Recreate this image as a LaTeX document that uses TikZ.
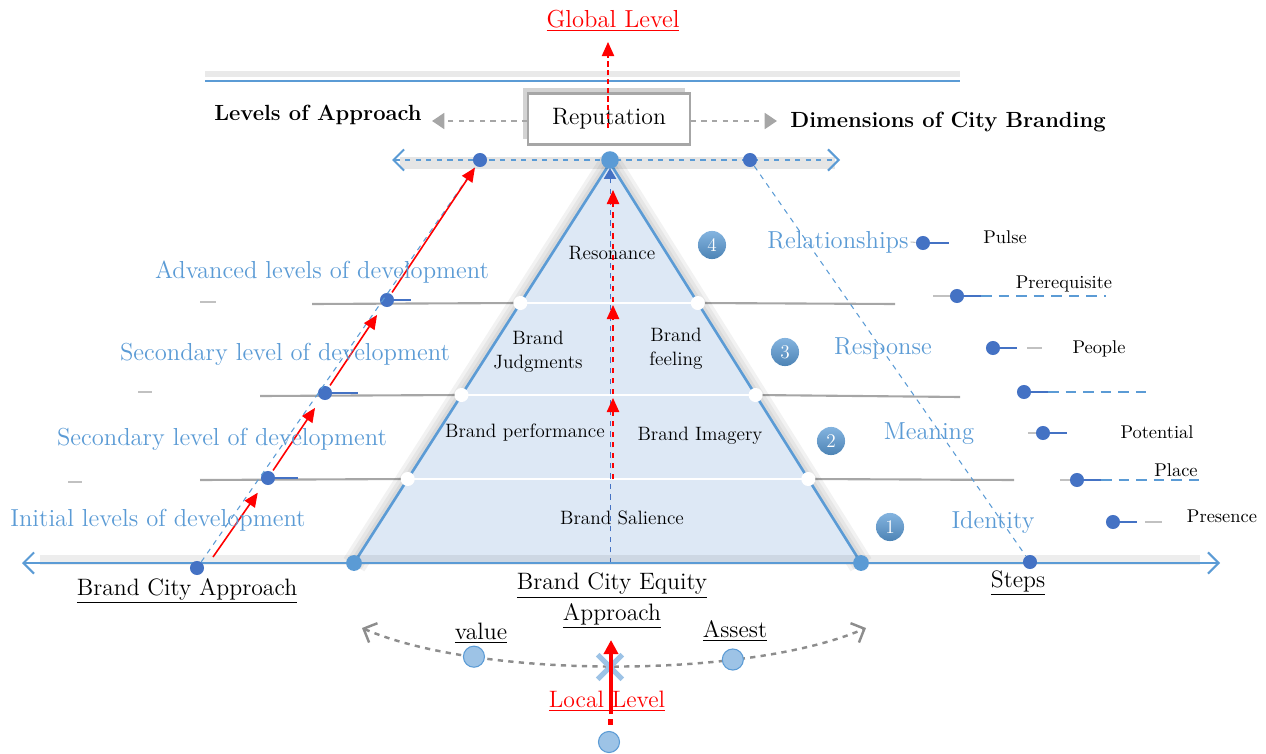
\documentclass[tikz,border=0pt]{standalone}
\usepackage{tikz}
\usepackage{xcolor}
\usetikzlibrary{positioning, arrows.meta, shapes.geometric, shapes.misc, calc, shadows, backgrounds}
\definecolor{cityBlue}{HTML}{5B9BD5}
\definecolor{dotBlue}{HTML}{4472C4}
\definecolor{pyrFill}{HTML}{DDE8F5}
\definecolor{lineGray}{HTML}{A6A6A6}
\definecolor{softBlue}{HTML}{9DC3E6}
\definecolor{levelRed}{HTML}{FF0000}

\tikzset{
  lvlText/.style={text=cityBlue, font=\fontsize{14}{16}\selectfont, inner sep=1pt},
  pyrText/.style={font=\fontsize{11}{13.5}\selectfont, align=center, inner sep=1pt},
  dimText/.style={font=\fontsize{10.5}{13}\selectfont, inner sep=1pt},
  axisText/.style={font=\fontsize{13.5}{17.6}\selectfont, align=center, inner sep=1pt},
  headText/.style={font=\bfseries\fontsize{12.5}{15}\selectfont, inner sep=1pt},
  darkDot/.style={circle, fill=dotBlue, minimum size=8pt, inner sep=0pt},
  lightDot/.style={circle, fill=cityBlue, minimum size=8pt, inner sep=0pt},
  whiteDot/.style={circle, fill=white, minimum size=8pt, inner sep=0pt},
  softDot/.style={circle, solid, fill=softBlue, draw=cityBlue, line width=0.6pt, minimum size=12pt, inner sep=0pt},
  stepNum/.style={circle, top color=cityBlue!75!white, bottom color=cityBlue!85!black, text=white,
    font=\fontsize{11}{13}\selectfont, minimum size=16pt, inner sep=0pt},
  grayLine/.style={lineGray, line width=1.2pt},
  tailLine/.style={dotBlue, line width=0.8pt},
  stubLine/.style={lineGray!70, line width=0.6pt},
  dashTail/.style={cityBlue, line width=1.2pt, dash pattern=on 6pt off 4pt},
  redStep/.style={levelRed, line width=0.9pt, -{Triangle[length=8pt,width=7pt]}},
  redUp/.style={levelRed, dashed, line width=0.9pt, -{Triangle[length=8pt,width=7pt]}},
  grayArrow/.style={lineGray, dashed, line width=1.4pt, -{Triangle[length=7pt,width=9pt]}},
  openTips/.style={{Straight Barb[length=6pt,width=12pt]}-{Straight Barb[length=6pt,width=12pt]}},
}

\begin{document}
\begin{tikzpicture}[x=0.02cm, y=-0.02cm]
  \useasboundingbox (0,0) rectangle (1266,753);

  % header rule
  \draw[lineGray!25, line width=3pt] (205,74) -- (960,74);
  \draw[cityBlue, line width=0.8pt] (205,81) -- (960,81);

  % pyramid corners and level cuts
  \coordinate (apex) at (610,163);
  \coordinate (baseL) at (354,563);
  \coordinate (baseR) at (861,563);
  \coordinate (baseM) at (610,563);
  \coordinate (cutL3) at ($(apex)!0.35!(baseL)$);
  \coordinate (cutR3) at ($(apex)!0.35!(baseR)$);
  \coordinate (cutL2) at ($(apex)!0.58!(baseL)$);
  \coordinate (cutR2) at ($(apex)!0.58!(baseR)$);
  \coordinate (cutL1) at ($(apex)!0.79!(baseL)$);
  \coordinate (cutR1) at ($(apex)!0.79!(baseR)$);

  % grey level lines either side
  \draw[grayLine] (312,304) -- (cutL3);
  \draw[grayLine] (cutR3) -- (895,304);
  \draw[grayLine] (260,396) -- (cutL2);
  \draw[grayLine] (cutR2) -- (960,397);
  \draw[grayLine] (200,480) -- (cutL1);
  \draw[grayLine] (cutR1) -- (1014,480);
  \draw[stubLine] (200,302) -- (216,302);
  \draw[stubLine] (138,392) -- (152,392);
  \draw[stubLine] (68,482) -- (82,482);

  % soft shade round the pyramid
  \foreach \w in {14,10,6}
    \draw[black, opacity=0.05, line width=\w pt, line join=round] ([yshift=-1pt]baseL) -- ([yshift=-1pt]apex) -- ([yshift=-1pt]baseR);
  \fill[pyrFill] (apex) -- (baseL) -- (baseR) -- cycle;
  \draw[white, line width=1.5pt] (cutL3) -- (cutR3) (cutL2) -- (cutR2) (cutL1) -- (cutR1);
  \draw[cityBlue, line width=1.5pt, line join=round] (baseL) -- (apex) -- (baseR);
  \foreach \c in {cutL3,cutR3,cutL2,cutR2,cutL1,cutR1}
    \node[whiteDot] at (\c) {};

  % centre line and the steps up
  \draw[dotBlue, dashed, line width=0.5pt, -{Triangle[length=6pt,width=7pt]}] (baseM) -- ([yshift=-3pt]apex);
  \draw[redUp] (613,479) -- (613,398);
  \draw[redUp] (613,394) -- (613,305);
  \draw[redUp] (613,302) -- (613,190);

  \node[pyrText] (reson) at (612,253) {Resonance};
  \node[pyrText] (judg) at (538,352) {Brand\\Judgments};
  \node[pyrText] (feel) at (676,349) {Brand\\feeling};
  \node[pyrText] (perf) at (525,433) {Brand performance};
  \node[pyrText] (imag) at (700,436) {Brand Imagery};
  \node[pyrText] (sali) at (622,518) {Brand Salience};

  % main axis
  \draw[black, opacity=0.07, line width=6pt] (40,560) -- (1200,560);
  \draw[cityBlue, line width=1.2pt, openTips] (22,563) -- (1220,563);
  \node[lightDot, minimum size=9pt] at (baseL) {};
  \node[lightDot, minimum size=9pt] at (baseR) {};

  % top dashed span
  \draw[black, opacity=0.1, line width=7pt] (400,163) -- (835,163);
  \draw[cityBlue, dashed, line width=1.2pt, openTips] (392,160) -- (840,160);
  \node[darkDot] (topL) at (480,160) {};
  \node[lightDot, minimum size=10pt] (topM) at (610,160) {};
  \node[darkDot] (topR) at (750,160) {};

  % left ladder of approach levels
  \node[darkDot] (lad0) at (197,568) {};
  \node[darkDot] (lad1) at (268,478) {};
  \node[darkDot] (lad2) at (325,393) {};
  \node[darkDot] (lad3) at (387,300) {};
  \coordinate (redFoot) at (213,557);
  \draw[cityBlue, dashed, line width=0.6pt] (lad0) -- (topL);
  \draw[redStep, shorten >=6pt] (redFoot) -- (lad1);
  \draw[redStep, shorten <=1pt, shorten >=6pt] (lad1) -- (lad2);
  \draw[redStep, shorten <=1pt, shorten >=6pt] (lad2) -- (lad3);
  \draw[redStep, shorten <=1pt, shorten >=1pt] (lad3) -- (topL);
  \draw[tailLine] (lad1) -- ++(30,0);
  \draw[tailLine] (lad2) -- ++(33,0);
  \draw[tailLine] (lad3) -- ++(24,0);

  \node[lvlText] (advLvl) at (322,272) {Advanced levels of development};
  \node[lvlText] (secLvlB) at (285,354) {Secondary level of development};
  \node[lvlText] (secLvlA) at (222,439) {Secondary level of development};
  \node[lvlText] (iniLvl) at (158,520) {Initial levels of development};

  % right side: steps of city branding
  \node[darkDot] (stepsDot) at (1030,562) {};
  \draw[cityBlue, dashed, line width=0.6pt] (topR) -- (stepsDot);

  \node[stepNum] (num4) at (712,245) {4};
  \node[stepNum] (num3) at (785,352) {3};
  \node[stepNum] (num2) at (831,441) {2};
  \node[stepNum] (num1) at (890,527) {1};

  \node[lvlText] (relLbl) at (838,242) {Relationships};
  \node[lvlText] (resLbl) at (883,348) {Response};
  \node[lvlText] (meanLbl) at (929,434) {Meaning};
  \node[lvlText] (idLbl) at (993,522) {Identity};

  \node[darkDot] (pulseDot) at (923,243) {};
  \draw[stubLine] (relLbl.east) -- (pulseDot);
  \draw[tailLine] (pulseDot) -- ++(26,0);
  \node[dimText] (pulse) at (1005,237) {Pulse};

  \node[darkDot] (preDot) at (957,296) {};
  \draw[stubLine] (933,296) -- (preDot);
  \draw[tailLine] (preDot) -- ++(24,0) coordinate (preEnd);
  \draw[dashTail] (preEnd) -- ++(125,0);
  \node[dimText] (prereq) at (1064,284) {Prerequisite};

  \node[darkDot] (peopleDot) at (993,348) {};
  \draw[tailLine] (peopleDot) -- ++(24,0);
  \draw[stubLine] (1027,348) -- (1042,348);
  \node[dimText] (people) at (1099,349) {People};

  \node[darkDot] (blankDot) at (1024,392) {};
  \draw[tailLine] (blankDot) -- ++(24,0) coordinate (blankEnd);
  \draw[dashTail] (blankEnd) -- ++(98,0);

  \node[darkDot] (potDot) at (1043,433) {};
  \draw[stubLine] (1028,433) -- (potDot);
  \draw[tailLine] (potDot) -- ++(24,0);
  \node[dimText] (potential) at (1157,432) {Potential};

  \node[darkDot] (placeDot) at (1077,480) {};
  \draw[stubLine] (1060,480) -- (placeDot);
  \draw[tailLine] (placeDot) -- ++(24,0) coordinate (placeEnd);
  \draw[dashTail] (placeEnd) -- ++(104,0);
  \node[dimText] (place) at (1176,470) {Place};

  \node[darkDot] (presDot) at (1113,522) {};
  \draw[tailLine] (presDot) -- ++(24,0);
  \draw[stubLine] (1145,522) -- (1162,522);
  \node[dimText] (presence) at (1222,516) {Presence};

  % reputation box and headings
  \node[draw=lineGray, line width=1.2pt, fill=white, minimum width=92pt, minimum height=29pt,
        font=\fontsize{13.5}{16}\selectfont,
        drop shadow={shadow xshift=-3pt, shadow yshift=3pt, opacity=0.35}] (repBox) at (609,119) {Reputation};
  \node[headText] (lvlHead) at (318,115) {Levels of Approach};
  \node[headText] (dimHead) at (948,122) {Dimensions of City Branding};
  \coordinate (lvlTip) at (432,121);
  \coordinate (dimTip) at (777,121);
  \draw[grayArrow] (repBox.west |- lvlTip) -- (lvlTip);
  \draw[grayArrow] (repBox.east |- dimTip) -- (dimTip);

  \node[text=levelRed, font=\fontsize{14}{16}\selectfont, inner sep=1pt] (globalLbl) at (613,21) {\underline{Global Level}};
  \draw[redUp, dash pattern=on 3pt off 2pt, line width=0.7pt] (608,128) -- (608,42);

  % axis labels
  \node[axisText] (bcaLbl) at (187,591) {\underline{Brand City Approach}};
  \node[axisText] (equityLbl) at (612,601) {\underline{Brand City Equity}\\\underline{Approach}};
  \node[axisText] (stepsLbl) at (1018,583) {\underline{Steps}};

  % value / asset swing at the local level
  \draw[lineGray!85!black, dashed, line width=1.4pt, openTips] (362,628) .. controls (480,679) and (748,679) .. (866,628)
    node[softDot, pos=0.25] (valueDot) {}
    node[softDot, pos=0.71] (assetDot) {};
  \node[axisText] (valueLbl) at (481,633) {\underline{value}};
  \node[axisText] (assetLbl) at (735,631) {\underline{Assest}};
  \node[cross out, draw=softBlue, line width=3pt, minimum size=11pt, inner sep=0pt] (crossMark) at (610,667) {};

  \node[text=levelRed, font=\fontsize{13.5}{16}\selectfont, inner sep=1pt] (localLbl) at (607,701) {\underline{Local Level}};
  \coordinate (localFoot) at (611,714);
  \coordinate (localTip) at (611,640);
  \draw[levelRed, line width=2.2pt, -{Triangle[length=8pt,width=8pt]}] (localFoot) -- (localTip);
  \fill[levelRed] (608,719) rectangle (613,725);
  \node[softDot] (localDot) at (609,742) {};
\end{tikzpicture}
\end{document}
